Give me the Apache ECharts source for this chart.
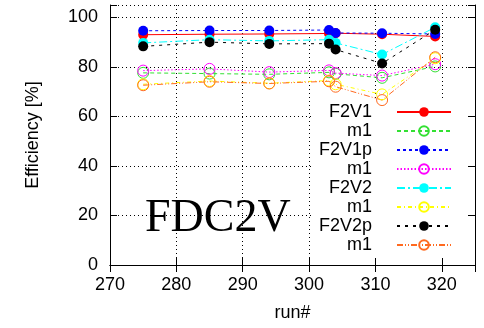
<!DOCTYPE html>
<html><head><meta charset="utf-8">
<script src="https://cdn.jsdelivr.net/npm/echarts@6/dist/echarts.min.js"></script>
<style>html,body{margin:0;padding:0;background:#fff}#c{width:484px;height:328px}</style>
</head><body><div id="c"></div>
<script>
var runs = [275, 285, 294, 303, 304, 311, 319];
var F2V1   = [93.0, 93.2, 93.3, 93.5, 93.6, 93.2, 92.3];
var m1_a   = [77.6, 77.3, 77.0, 77.8, 77.2, 75.6, 80.2];
var F2V1p  = [94.6, 94.7, 94.7, 94.9, 93.7, 93.6, 93.3];
var m1_b   = [78.5, 79.2, 77.9, 78.6, 77.5, 76.5, 81.1];
var F2V2   = [89.7, 91.0, 90.5, 91.0, 89.7, 85.0, 96.0];
var m1_c   = [73.0, 74.3, 73.4, 74.5, 73.0, 68.9, 83.5];
var F2V2p  = [88.3, 90.0, 89.3, 89.4, 87.0, 81.4, 95.0];
var m1_d   = [72.6, 74.0, 73.3, 74.2, 72.0, 66.6, 83.9];
var xTicks = [270, 280, 290, 300, 310, 320];
var yTicks = [0, 20, 40, 60, 80, 100];

var seriesDefs = [
  {name:'F2V1',  data:F2V1,  color:'#ff0000', dash:'solid',         filled:true},
  {name:'m1_a',  data:m1_a,  color:'#33e033', dash:[4,3],           filled:false},
  {name:'F2V1p', data:F2V1p, color:'#0000ff', dash:[3,3],           filled:true},
  {name:'m1_b',  data:m1_b,  color:'#ff00ff', dash:[1.5,2],         filled:false},
  {name:'F2V2',  data:F2V2,  color:'#00ffff', dash:[8,3,2,3],       filled:true},
  {name:'m1_c',  data:m1_c,  color:'#ffff00', dash:[4,3,1,3],       filled:false},
  {name:'F2V2p', data:F2V2p, color:'#000000', dash:[3,5],           filled:true},
  {name:'m1_d',  data:m1_d,  color:'#ff6a20', dash:[6,2,1,2,1,2],   filled:false}
];

var series = seriesDefs.map(function(d){
  return {
    name: d.name, type:'line', xAxisIndex:1, yAxisIndex:1,
    data: runs.map(function(r,i){return [r, d.data[i]];}),
    symbol:'circle', symbolSize: d.filled ? 10 : 11,
    lineStyle:{color:d.color, width:1, type:d.dash},
    itemStyle: d.filled ? {color:d.color} : {color:'rgba(0,0,0,0)', borderColor:d.color, borderWidth:1},
    color: d.color,
    emphasis:{disabled:true}, animation:false, z:2
  };
});

function fmtX(v){ return xTicks.indexOf(v) >= 0 ? String(v) : ''; }
function fmtY(v){ return yTicks.indexOf(v) >= 0 ? String(v) : ''; }
var fontS = 'Liberation Sans';
var gridRect = {left:110, right:9, top:5, bottom:63};

var option = {
  animation:false,
  backgroundColor:'#fff',
  grid:[Object.assign({}, gridRect), Object.assign({}, gridRect)],
  xAxis:[
    {gridIndex:0, type:'value', min:270, max:325, interval:10, position:'bottom',
     axisLine:{show:false}, axisTick:{show:false}, axisLabel:{show:false},
     splitLine:{show:true, lineStyle:{color:'#000', type:[1,3], width:1}}, z:0},
    {gridIndex:1, type:'value', min:270, max:325, interval:10, position:'bottom',
     axisLine:{show:true, lineStyle:{color:'#000', width:1}},
     axisTick:{show:true, inside:true, length:7, lineStyle:{color:'#000'}},
     axisLabel:{show:true, formatter:fmtX, color:'#000', fontSize:18, fontFamily:fontS, margin:11},
     splitLine:{show:false},
     name:'run#', nameLocation:'middle', nameGap:39,
     nameTextStyle:{color:'#000', fontSize:18, fontFamily:fontS}, z:3},
    {gridIndex:1, type:'value', min:270, max:325, interval:10, position:'top',
     axisLine:{show:true, lineStyle:{color:'#000', width:1}},
     axisTick:{show:true, inside:true, length:7, lineStyle:{color:'#000'}},
     axisLabel:{show:false}, splitLine:{show:false}, z:3}
  ],
  yAxis:[
    {gridIndex:0, type:'value', min:0, max:105, interval:20, position:'left',
     axisLine:{show:false}, axisTick:{show:false}, axisLabel:{show:false},
     splitLine:{show:true, lineStyle:{color:'#000', type:[1,3], width:1}}, z:0},
    {gridIndex:1, type:'value', min:0, max:105, interval:20, position:'left',
     axisLine:{show:true, lineStyle:{color:'#000', width:1}},
     axisTick:{show:true, inside:true, length:7, lineStyle:{color:'#000'}},
     axisLabel:{show:true, formatter:fmtY, color:'#000', fontSize:18, fontFamily:fontS, margin:12},
     splitLine:{show:false},
     name:'Efficiency [%]', nameLocation:'middle', nameGap:68,
     nameTextStyle:{color:'#000', fontSize:18, fontFamily:fontS}, z:3},
    {gridIndex:1, type:'value', min:0, max:105, interval:20, position:'right',
     axisLine:{show:true, lineStyle:{color:'#000', width:1}},
     axisTick:{show:true, inside:true, length:7, lineStyle:{color:'#000'}},
     axisLabel:{show:false}, splitLine:{show:false}, z:3}
  ],
  legend:{
    orient:'vertical', align:'right', right:32, top:103, padding:0, itemGap:1,
    itemWidth:54, itemHeight:12, selectedMode:false, z:4,
    data: seriesDefs.map(function(d){return d.name;}),
    formatter:function(n){ return n.split('_')[0]; },
    textStyle:{color:'#000', fontSize:18, fontFamily:fontS, padding:[0,20,0,0]}
  },
  graphic:[
    {type:'rect', z:1, zlevel:0, silent:true, shape:{x:312, y:101, width:162, height:162}, style:{fill:'#fff'}},
    {type:'text', z:5, silent:true, x:145, y:242,
     style:{text:'FDC2V', font:'46px "Liberation Serif"', fill:'#000', textVerticalAlign:'bottom', verticalAlign:'bottom'}}
  ],
  series: series
};
var chart = echarts.init(document.getElementById('c'), null, {renderer:'canvas'});
chart.setOption(option);
</script></body></html>
